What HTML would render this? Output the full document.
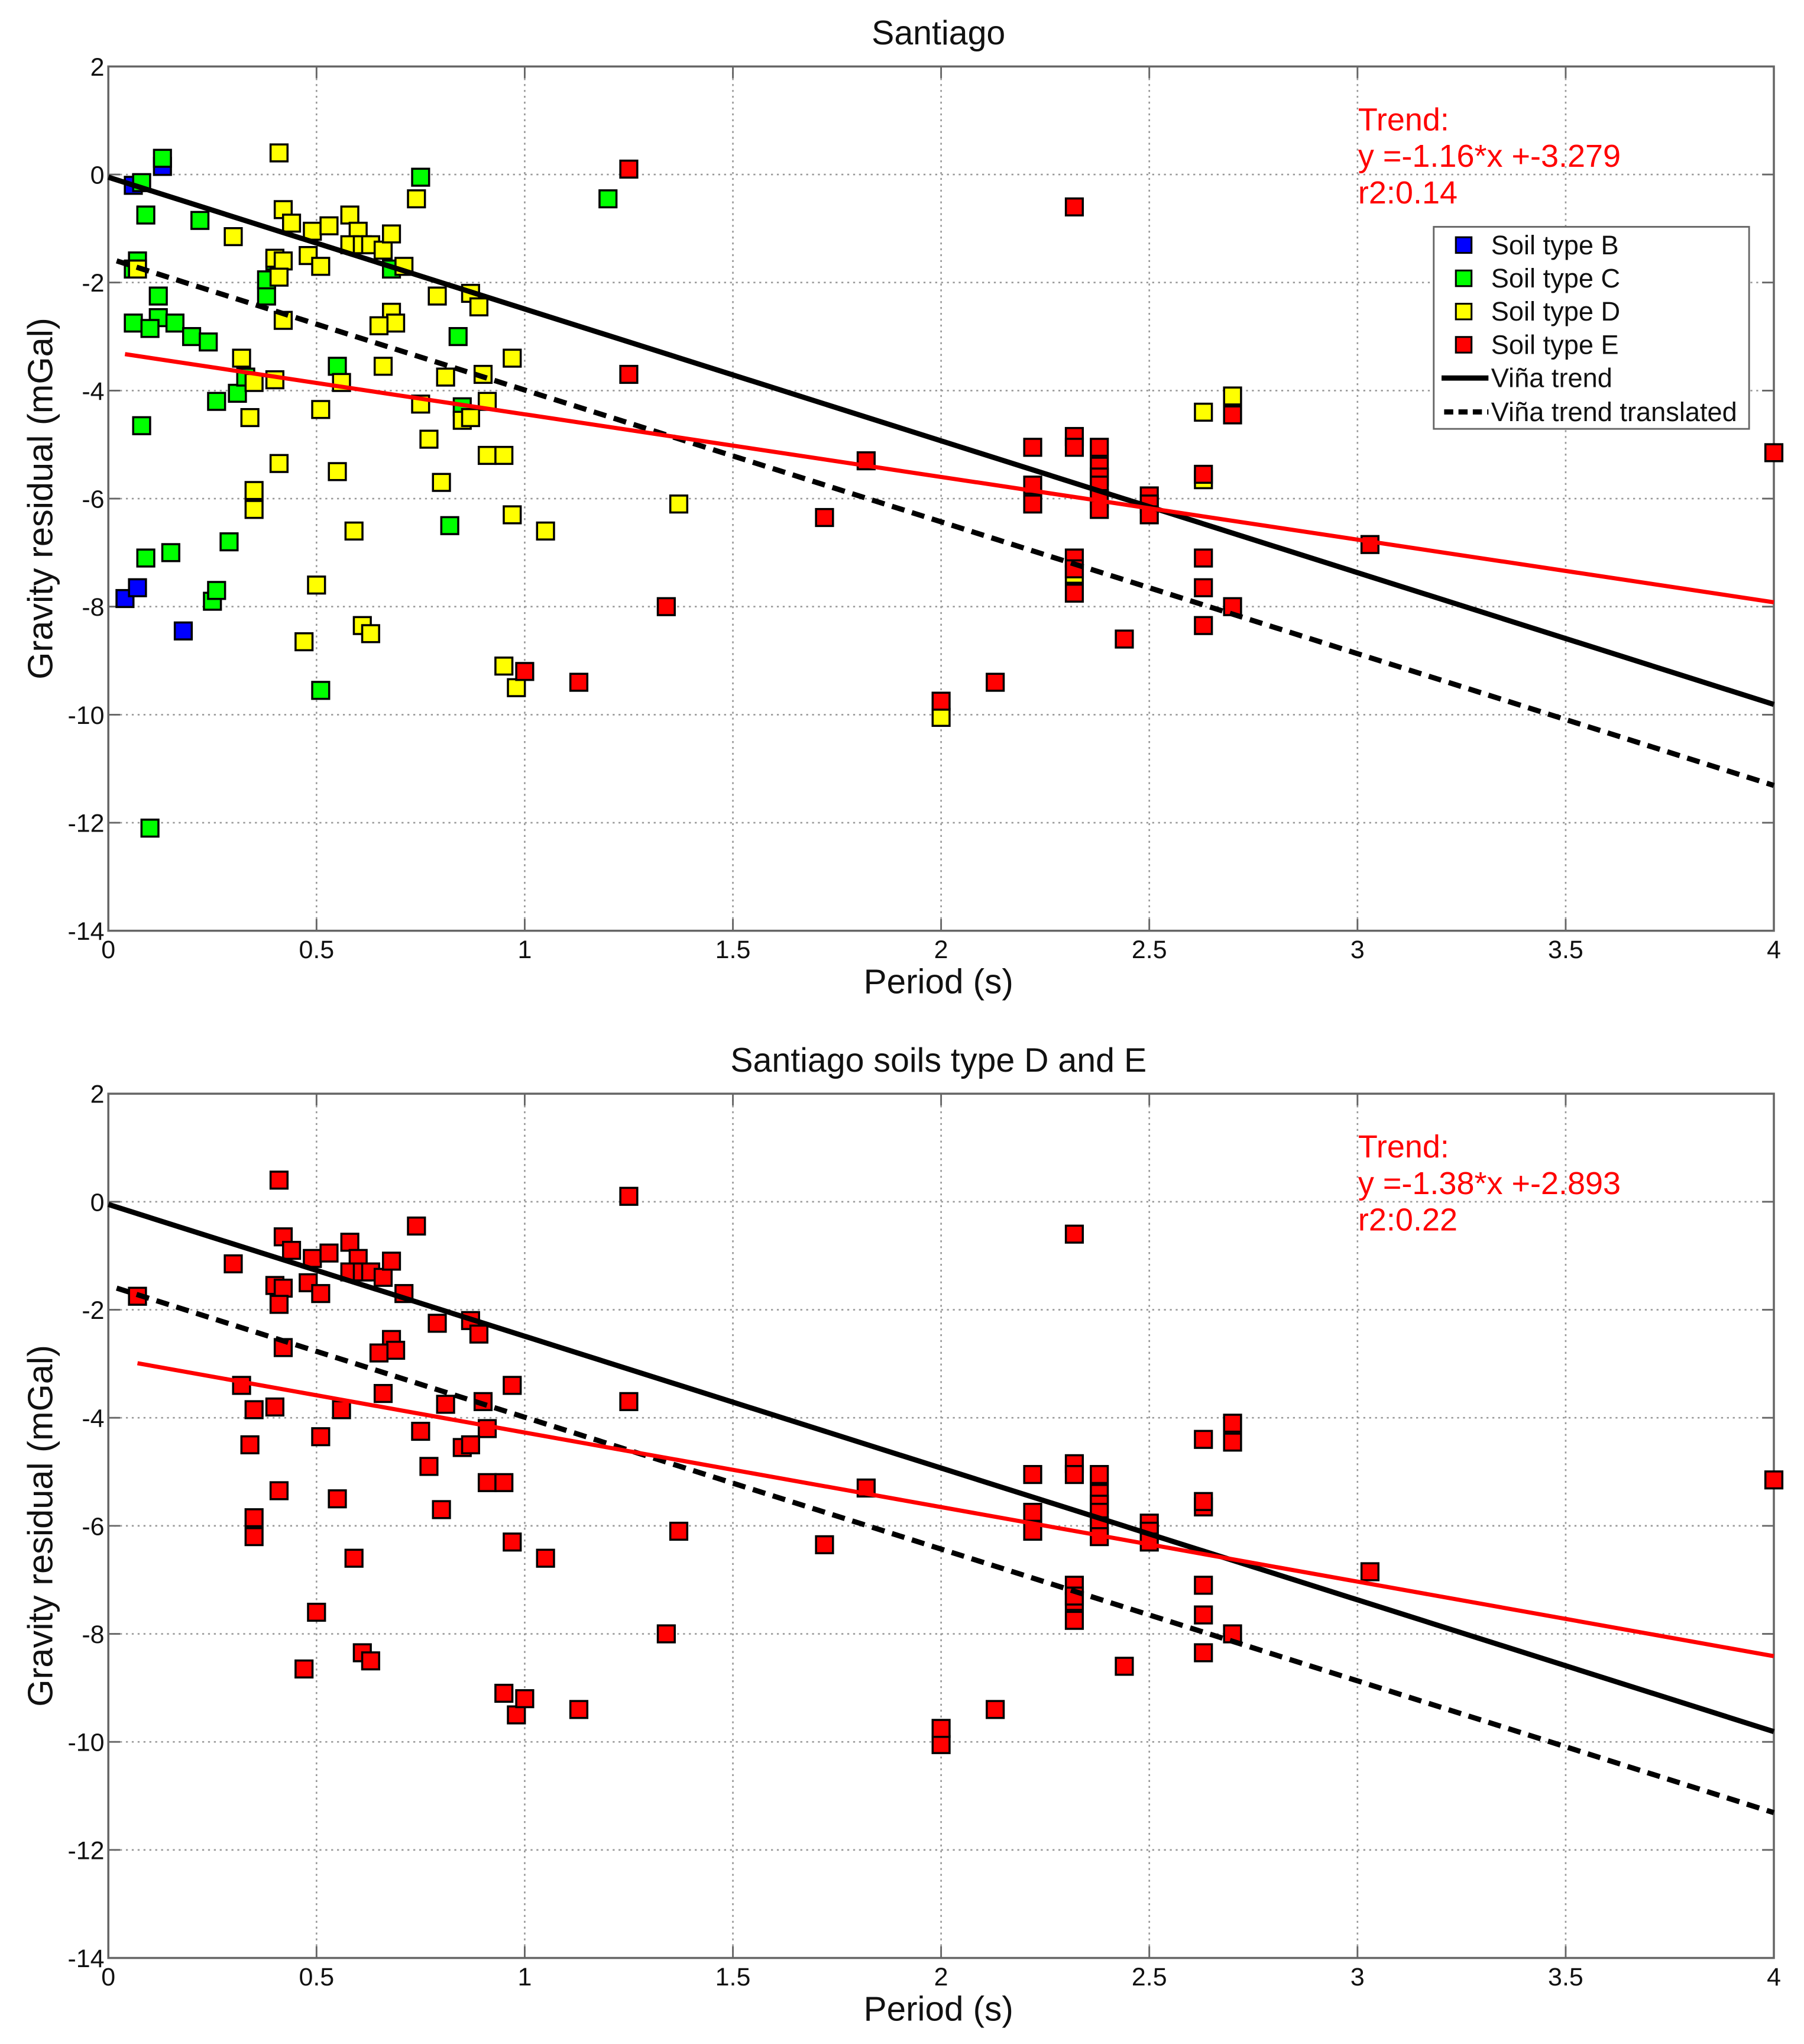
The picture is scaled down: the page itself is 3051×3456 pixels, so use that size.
<!DOCTYPE html>
<html><head><meta charset="utf-8"><style>
html,body{margin:0;padding:0;background:#fff;}
svg{display:block;font-family:"Liberation Sans",sans-serif;}
</style></head><body>
<svg id="fig" width="3051" height="3456" viewBox="0 0 1384 1568" xmlns="http://www.w3.org/2000/svg"></svg>
<script>
const xTicks=[0,0.5,1,1.5,2,2.5,3,3.5,4];
const xTickLabels=["0","0.5","1","1.5","2","2.5","3","3.5","4"];
const yTicks=[2,0,-2,-4,-6,-8,-10,-12,-14];
const yTickLabels=["2","0","-2","-4","-6","-8","-10","-12","-14"];
const soilBx=[0.04,0.07,0.18,0.13,0.06];
const soilBy=[-7.85,-7.65,-8.45,0.15,-0.2];
const soilCx=[0.13,0.08,0.09,0.07,0.06,0.12,0.12,0.06,0.1,0.16,0.2,0.24,0.22,0.08,0.26,0.31,0.33,0.09,0.15,0.29,0.25,0.26,0.1,0.38,0.38,0.4,0.55,0.51,0.68,0.75,0.84,0.82,0.85,1.2];
const soilCy=[0.3,-0.15,-0.75,-1.6,-1.75,-2.25,-2.65,-2.75,-2.85,-2.75,-3.0,-3.1,-0.85,-4.65,-4.2,-4.05,-3.75,-7.1,-7.0,-6.8,-7.9,-7.7,-12.1,-2.25,-1.95,-1.6,-3.55,-9.55,-1.75,-0.05,-3.0,-6.5,-4.3,-0.45];
const soilDx=[0.07,0.3,0.41,0.42,0.44,0.4,0.42,0.41,0.48,0.49,0.53,0.51,0.58,0.6,0.58,0.61,0.63,0.66,0.68,0.74,0.71,0.42,0.68,0.69,0.65,0.79,0.87,0.89,0.32,0.35,0.4,0.34,0.41,0.51,0.56,0.66,0.75,0.81,0.9,0.91,0.97,0.85,0.87,0.77,0.8,0.55,0.91,0.95,0.35,0.35,0.59,0.97,1.05,1.37,0.5,0.47,0.61,0.63,0.95,0.98,2.0,2.32,2.63,2.63,2.7];
const soilDy=[-1.75,-1.15,0.4,-0.65,-0.9,-1.55,-1.6,-1.9,-1.5,-1.05,-0.95,-1.7,-0.75,-1.05,-1.3,-1.3,-1.3,-1.4,-1.1,-0.45,-1.7,-2.7,-2.55,-2.75,-2.8,-2.25,-2.2,-2.45,-3.4,-3.85,-3.8,-4.5,-5.35,-4.35,-3.85,-3.55,-4.25,-3.75,-3.7,-4.2,-3.4,-4.55,-4.5,-4.9,-5.7,-5.5,-5.2,-5.2,-5.85,-6.2,-6.6,-6.3,-6.6,-6.1,-7.6,-8.65,-8.35,-8.5,-9.1,-9.5,-10.05,-7.4,-5.65,-4.4,-4.1];
const soilEx=[1.25,1.25,1.0,1.13,1.34,1.82,1.72,2.0,2.13,2.22,2.22,2.22,2.32,2.32,2.32,2.32,2.32,2.32,2.38,2.38,2.38,2.38,2.38,2.38,2.44,2.5,2.5,2.5,2.63,2.63,2.63,2.63,2.7,2.7,3.03,4.0];
const soilEy=[0.1,-3.7,-9.2,-9.4,-8.0,-5.3,-6.35,-9.75,-9.4,-5.05,-5.75,-6.1,-0.6,-4.85,-5.05,-7.1,-7.3,-7.75,-5.05,-5.4,-5.6,-5.75,-6.0,-6.2,-8.6,-5.95,-6.1,-6.3,-5.55,-7.1,-7.65,-8.35,-4.45,-8.0,-6.85,-5.15];
const vinaLine=[-2.44,-0.05];
const vinaTranslated=[-2.44,-1.55];
const trendTop=[-1.16,-3.279,0.04];
const trendBottom=[-1.38,-2.893,0.07];

const NS="http://www.w3.org/2000/svg";
const svg=document.getElementById('fig');
function el(tag,attrs,parent,text){const e=document.createElementNS(NS,tag);for(const k in attrs)e.setAttribute(k,attrs[k]);if(text!==undefined)e.textContent=text;(parent||svg).appendChild(e);return e;}

function panel(top,title,series,trend,r2,withLegend,pname){
  const L=83,R=1361,T=top,B=top+663;
  const sx=v=>L+(v-0)/4*(R-L);
  const sy=v=>T+(2-v)/16*(B-T);
  const g=el('g',{});
  
  
  xTicks.forEach((t,i)=>{ if(i>0&&i<xTicks.length-1){const l=el('line',{x1:sx(t),x2:sx(t),y1:T,y2:B,stroke:'#999','stroke-width':1.2,'stroke-dasharray':'1.5,3'},g);}});
  yTicks.forEach((t,i)=>{ if(i>0&&i<yTicks.length-1){const l=el('line',{x1:L,x2:R,y1:sy(t),y2:sy(t),stroke:'#999','stroke-width':1.2,'stroke-dasharray':'1.5,3'},g);}});
  xTicks.forEach((t,i)=>{
    el('line',{x1:sx(t),x2:sx(t),y1:B,y2:B-9,stroke:'#666','stroke-width':1.3},g);
    el('line',{x1:sx(t),x2:sx(t),y1:T,y2:T+9,stroke:'#666','stroke-width':1.3},g);
    const tx=el('text',{x:sx(t),y:B+21,'font-size':19.5,'text-anchor':'middle',fill:'#111'},g,xTickLabels[i]);
    
  });
  yTicks.forEach((t,i)=>{
    el('line',{x1:L,x2:L+9,y1:sy(t),y2:sy(t),stroke:'#666','stroke-width':1.3},g);
    el('line',{x1:R,x2:R-9,y1:sy(t),y2:sy(t),stroke:'#666','stroke-width':1.3},g);
    const tx=el('text',{x:L-3,y:sy(t)+7,'font-size':19.5,'text-anchor':'end',fill:'#111'},g,yTickLabels[i]);
    
  });
  const fr=el('rect',{x:L,y:T,width:R-L,height:B-T,fill:'none',stroke:'#666','stroke-width':1.6},g);
  
  series.forEach(s=>{
    s.xs.forEach((x,i)=>{
      const r=el('rect',{x:sx(x)-6.5,y:sy(s.ys[i])-6.5,width:13,height:13,fill:s.c,stroke:'#000','stroke-width':1.6},g);
      
      
    });
  });
  const v1=el('line',{x1:sx(0),y1:sy(vinaLine[1]),x2:sx(4),y2:sy(vinaLine[0]*4+vinaLine[1]),stroke:'#000','stroke-width':4},g);
  
  const v2=el('line',{x1:sx(0.02),y1:sy(vinaTranslated[0]*0.02+vinaTranslated[1]),x2:sx(4),y2:sy(vinaTranslated[0]*4+vinaTranslated[1]),stroke:'#000','stroke-width':4,'stroke-dasharray':'10,6'},g);
  
  const tl=el('line',{x1:sx(trend[2]),y1:sy(trend[0]*trend[2]+trend[1]),x2:sx(4),y2:sy(trend[0]*4+trend[1]),stroke:'#f00','stroke-width':3.2},g);
  
  const ti=el('text',{x:720,y:T-17,'font-size':26,'text-anchor':'middle',fill:'#111'},g,title);
  
  const xl=el('text',{x:720,y:B+48,'font-size':26.5,'text-anchor':'middle',fill:'#111'},g,'Period (s)');
  
  const yl=el('text',{x:0,y:0,'font-size':27,'text-anchor':'middle',fill:'#111',transform:`translate(40,${(T+B)/2}) rotate(-90)`},g,'Gravity residual (mGal)');
  
  const tt=el('text',{x:1042,y:T+49,'font-size':24.5,fill:'#f00'},g);
  
  ['Trend:','y ='+trend[0].toFixed(2)+'*x +'+trend[1].toFixed(3),'r2:'+r2].forEach((s,i)=>{el('tspan',{x:1042,dy:i?28:0},tt,s);});
  if(withLegend){
    const lg=el('g',{},g);
    
    el('rect',{x:1100,y:T+123,width:242,height:155,fill:'#fff',stroke:'#666','stroke-width':1.3},lg);
    const items=[['Soil type B','#00f'],['Soil type C','#0f0'],['Soil type D','#ff0'],['Soil type E','#f00']];
    items.forEach((it,i)=>{
      const yy=T+137+i*25.5;
      const m=el('rect',{x:1117,y:yy-6,width:12,height:12,fill:it[1],stroke:'#000','stroke-width':1.4},lg);
      
      const t=el('text',{x:1144,y:yy+7,'font-size':20.5,fill:'#111'},lg,it[0]);
      
    });
    let yy=T+239;
    el('line',{x1:1106,x2:1142,y1:yy,y2:yy,stroke:'#000','stroke-width':4},lg);
    const a=el('text',{x:1144,y:yy+7,'font-size':20.5,fill:'#111'},lg,'Viña trend');
    
    yy=T+265;
    el('line',{x1:1108,x2:1142,y1:yy,y2:yy,stroke:'#000','stroke-width':4,'stroke-dasharray':'7,4'},lg);
    const b=el('text',{x:1144,y:yy+7,'font-size':20.5,fill:'#111'},lg,'Viña trend translated');
    
  }
}
panel(51,'Santiago',[
  {xs:soilBx,ys:soilBy,c:'#00f',n:'soil-b-point'},
  {xs:soilCx,ys:soilCy,c:'#0f0',n:'soil-c-point'},
  {xs:soilDx,ys:soilDy,c:'#ff0',n:'soil-d-point'},
  {xs:soilEx,ys:soilEy,c:'#f00',n:'soil-e-point'}],trendTop,'0.14',true,'top-panel');
panel(839,'Santiago soils type D and E',[
  {xs:soilDx,ys:soilDy,c:'#f00',n:'soil-d-point'},
  {xs:soilEx,ys:soilEy,c:'#f00',n:'soil-e-point'}],trendBottom,'0.22',false,'bottom-panel');
</script>
</body></html>
